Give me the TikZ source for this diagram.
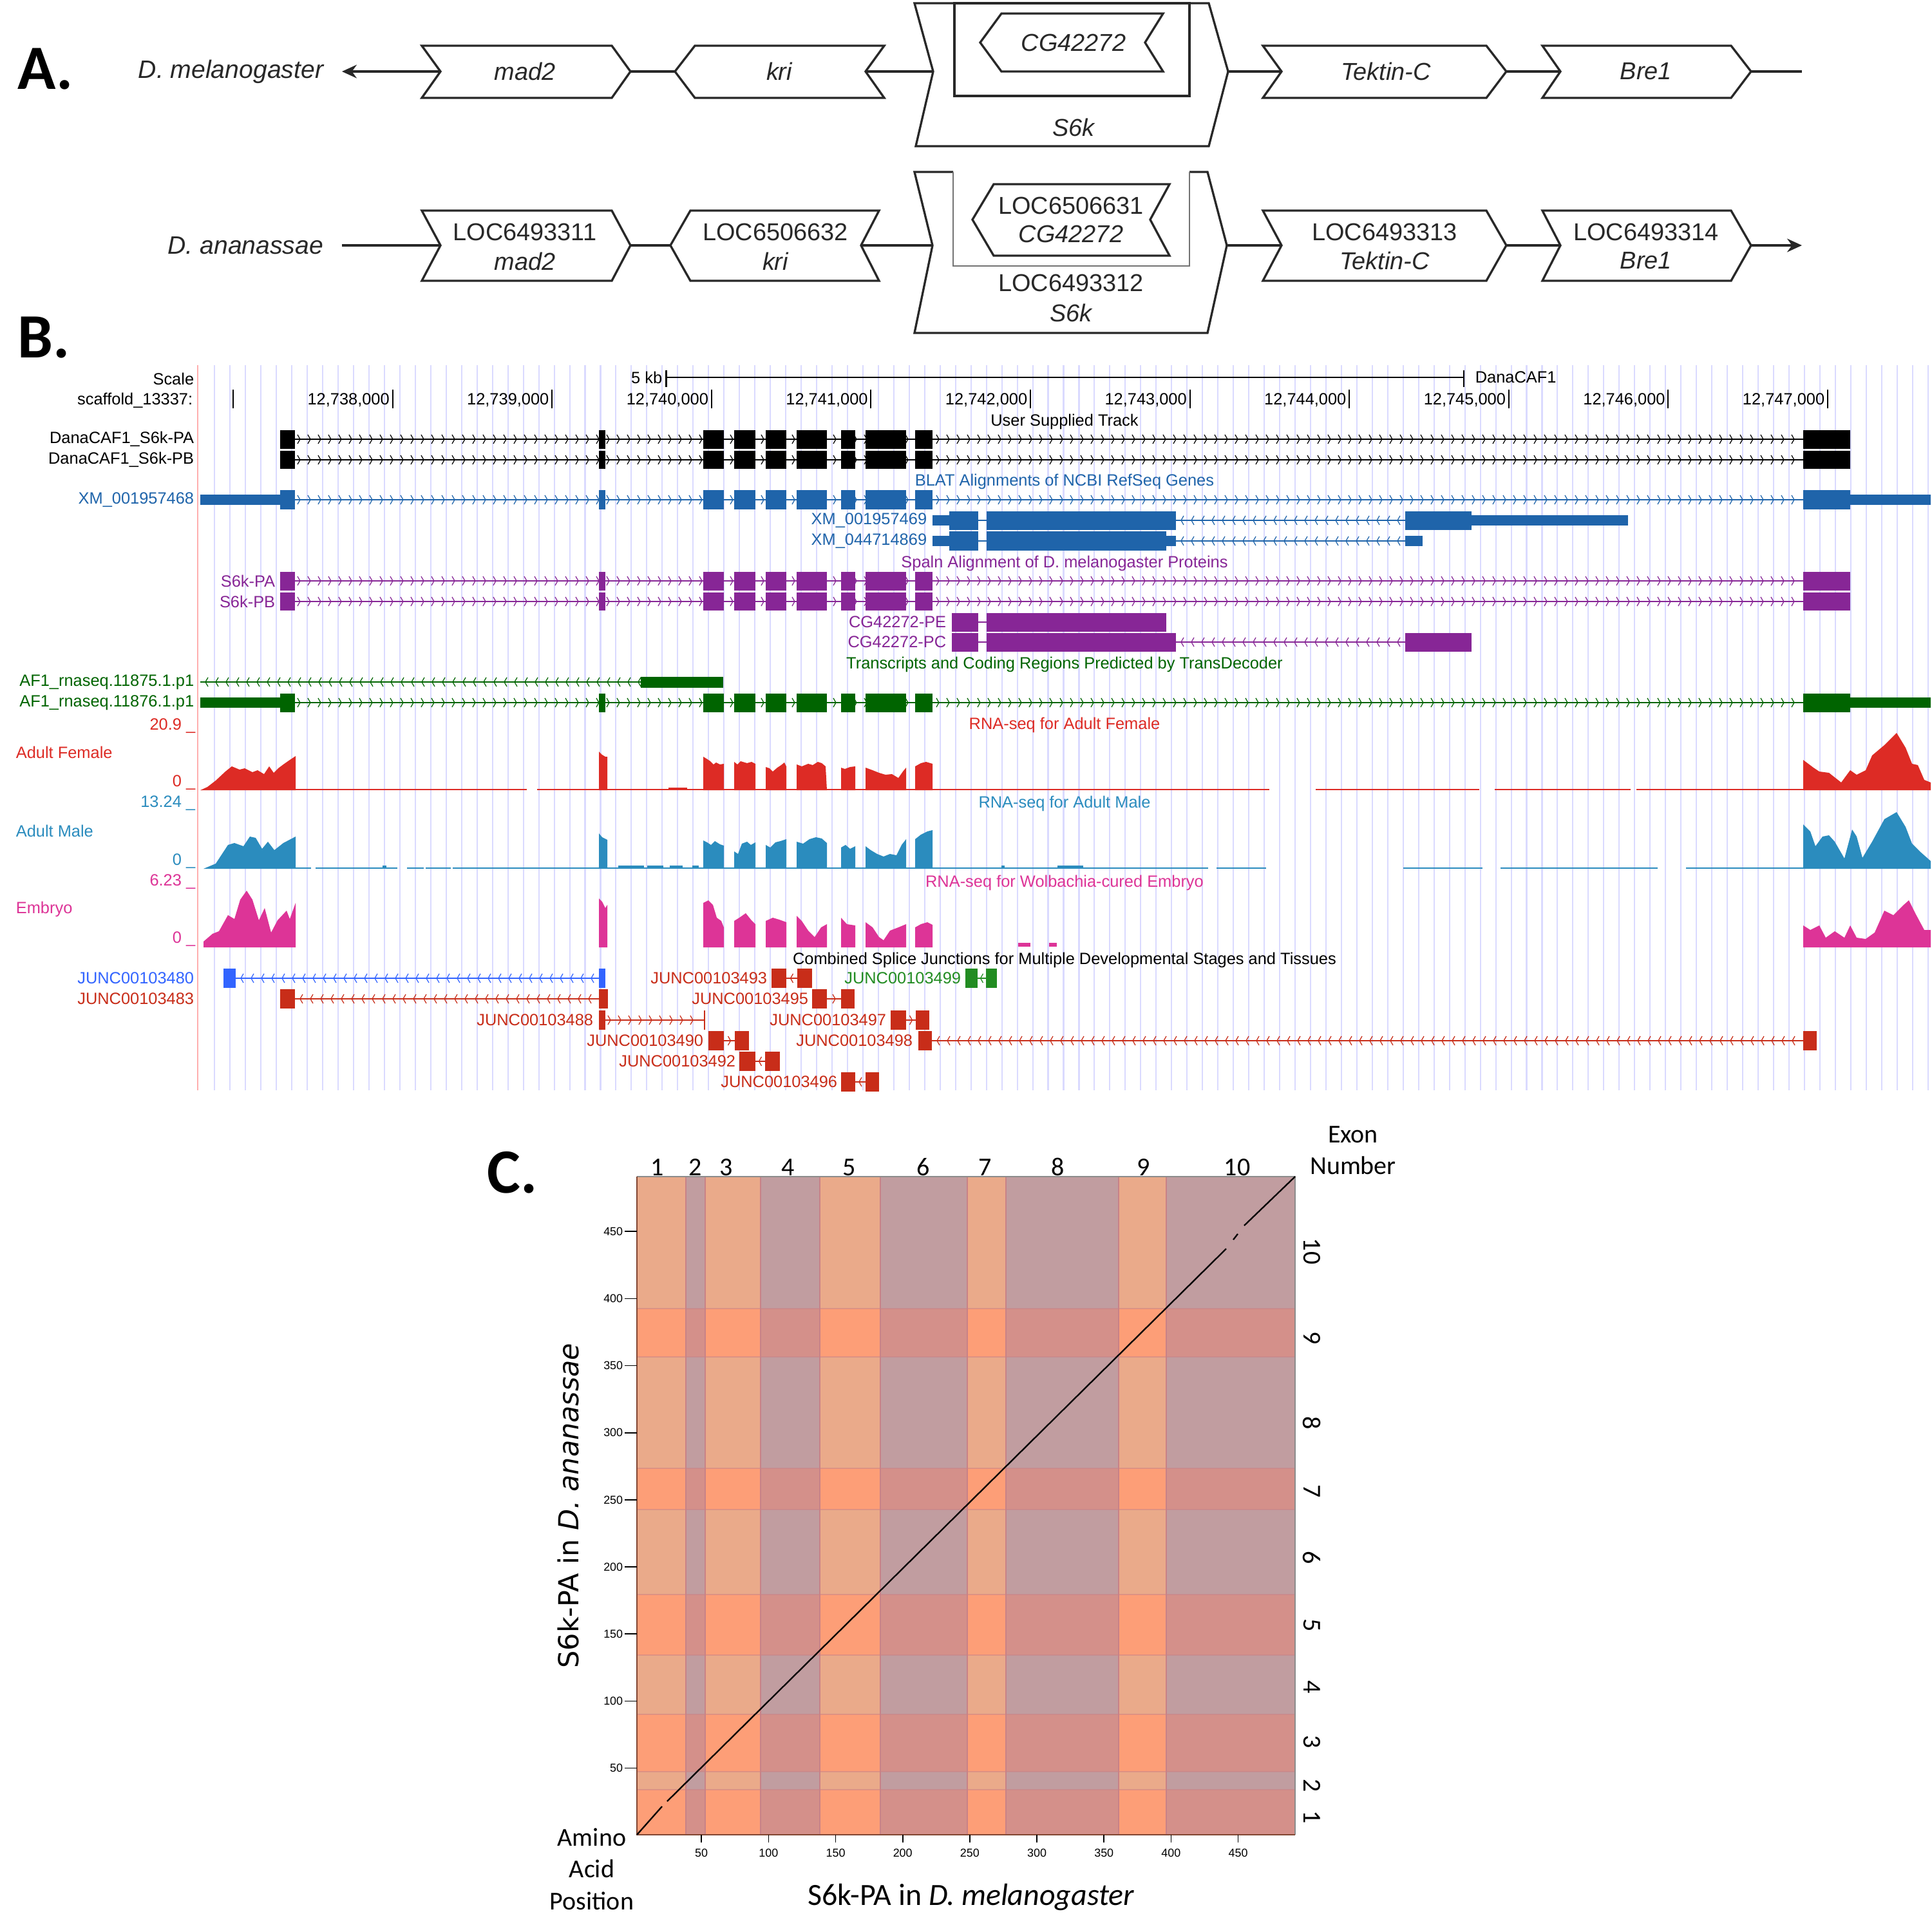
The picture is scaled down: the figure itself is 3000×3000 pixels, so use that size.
\documentclass[tikz,border=0pt]{standalone}
\usepackage{fontspec}
\setmainfont{Liberation Sans}
\newfontfamily\carlito{Carlito}
\newfontfamily\djv{DejaVu Sans}
\usetikzlibrary{arrows.meta}
\definecolor{ucBlue}{RGB}{31,100,170}
\definecolor{ucPurple}{RGB}{135,38,150}
\definecolor{ucGreen}{RGB}{0,100,0}
\definecolor{femRed}{RGB}{221,43,37}
\definecolor{maleBlue}{RGB}{43,140,190}
\definecolor{embPink}{RGB}{221,52,151}
\definecolor{jRed}{RGB}{200,45,25}
\definecolor{jBlue}{RGB}{50,100,255}
\definecolor{jGreen}{RGB}{34,140,34}
\definecolor{gridBlue}{RGB}{218,218,255}
\definecolor{gridRed}{RGB}{255,175,175}
\definecolor{cA}{RGB}{234,170,138}
\definecolor{cB}{RGB}{193,157,160}
\definecolor{cC}{RGB}{253,158,119}
\definecolor{cD}{RGB}{212,144,138}
\definecolor{bandLine}{RGB}{200,130,135}
\definecolor{frameC}{RGB}{130,70,50}
\definecolor{atxt}{RGB}{40,40,40}
\newcommand\blocks[4]{\foreach \a/\b in {#4} {\fill[#1] (\a,{#2-#3}) rectangle (\b,{#2+#3});}}
\newcommand\intron[5]{%
  \draw[#1, line width=0.6pt] (#3,#2) -- (#4,#2);%
  \pgfmathsetmacro\iA{#3+8}%
  \pgfmathsetmacro\iB{#3+24}%
  \pgfmathsetmacro\iC{#4-3}%
  \foreach \x in {\iA,\iB,...,\iC} {\draw[#1, line width=0.3pt] ({\x-(#5)*4},{#2-7}) -- (\x,#2) -- ({\x-(#5)*4},{#2+7});}%
}
\newcommand\shortj[5]{%
  \draw[#1, line width=0.6pt] (#3,#2) -- (#4,#2);%
  \pgfmathsetmacro\iM{(#3+#4)/2+(#5)*2}%
  \draw[#1, line width=0.3pt] ({\iM-(#5)*4},{#2-7}) -- (\iM,#2) -- ({\iM-(#5)*4},{#2+7});%
}
\tikzset{
  gbox/.style={draw=atxt, line width=0.8pt, fill=white, line join=miter},
  gtxt/.style={font=\fontsize{9.1}{11}\selectfont, text=atxt, inner sep=0},
  gitx/.style={font=\fontsize{9.1}{11}\selectfont\itshape, text=atxt, inner sep=0},
  link/.style={draw=atxt, line width=0.8pt},
  panel/.style={font=\carlito\bfseries\fontsize{23.5}{26}\selectfont, inner sep=0, anchor=base west},
  ucsc/.style={font=\fontsize{6.1}{7}\selectfont, inner sep=0},
  ctxt/.style={font=\carlito\fontsize{9.6}{11}\selectfont, inner sep=0},
  tickl/.style={font=\fontsize{4.3}{5}\selectfont, inner sep=0},
  thinl/.style={line width=0.5pt},
}
\begin{document}
\begin{tikzpicture}[x=0.24pt,y=-0.24pt]
\useasboundingbox (0,0) rectangle (3000,3000);
\fill[white] (0,0) rectangle (3000,3000);

%================ PART A ================
\node[panel] (lblA) at (27,138) {A.};
% row 1
\node[gitx, anchor=east, font=\fontsize{9.4}{11}\selectfont\itshape] (spmel) at (503,111) {D. melanogaster};
\coordinate (arr1) at (531,111);
\draw[gbox] (655,71) -- (950,71) -- (979,111) -- (950,152) -- (655,152) -- (684,111) -- cycle;
\coordinate (m1L) at (684,111); \coordinate (m1R) at (979,111);
\node[gitx] (tm1) at (815,111) {mad2};
\draw[gbox] (1079,71) -- (1373,71) -- (1344,111) -- (1373,152) -- (1079,152) -- (1048,111) -- cycle;
\coordinate (k1L) at (1048,111); \coordinate (k1R) at (1344,111);
\node[gitx] (tk1) at (1210,111) {kri};
\draw[gbox] (1420,5) -- (1877,5) -- (1907,111) -- (1877,227) -- (1422,227) -- (1449,111) -- cycle;
\coordinate (s1L) at (1449,111); \coordinate (s1R) at (1907,111);
\draw[draw=atxt, line width=0.8pt] (1482,5) rectangle (1847,149);
\draw[gbox] (1555,21) -- (1806,21) -- (1778,66) -- (1806,111) -- (1555,111) -- (1522,66) -- cycle;
\node[gitx] (tcg1) at (1667,66) {CG42272};
\node[gitx] (ts1) at (1667,198) {S6k};
\draw[gbox] (1961,71) -- (2308,71) -- (2339,111) -- (2308,152) -- (1961,152) -- (1990,111) -- cycle;
\coordinate (t1L) at (1990,111); \coordinate (t1R) at (2339,111);
\node[gitx] (tt1) at (2152,111) {Tektin-C};
\draw[gbox] (2395,71) -- (2688,71) -- (2719,111) -- (2688,152) -- (2395,152) -- (2423,111) -- cycle;
\coordinate (b1L) at (2423,111); \coordinate (b1R) at (2719,111);
\node[gitx] (tb1) at (2556,111) {Bre1};
\coordinate (end1) at (2798,111);
\draw[link, -{Stealth[length=5.5pt,width=5pt]}] (m1L) -- (arr1);
\draw[link] (m1R) -- (k1L);
\draw[link] (k1R) -- (s1L);
\draw[link] (s1R) -- (t1L);
\draw[link] (t1R) -- (b1L);
\draw[link] (b1R) -- (end1);

% row 2
\node[gitx, anchor=east, font=\fontsize{9.4}{11}\selectfont\itshape] (spana) at (503,381) {D. ananassae};
\coordinate (st2) at (531,381);
\draw[gbox] (655,327) -- (950,327) -- (979,381) -- (950,436) -- (655,436) -- (684,381) -- cycle;
\coordinate (m2L) at (684,381); \coordinate (m2R) at (979,381);
\node[gtxt] (tm2a) at (815,360) {LOC6493311};
\node[gitx] (tm2b) at (815,406) {mad2};
\draw[gbox] (1072,327) -- (1365,327) -- (1337,381) -- (1365,436) -- (1072,436) -- (1041,381) -- cycle;
\coordinate (k2L) at (1041,381); \coordinate (k2R) at (1337,381);
\node[gtxt] (tk2a) at (1204,360) {LOC6506632};
\node[gitx] (tk2b) at (1204,406) {kri};
\fill[white] (1420,267) -- (1480,267) -- (1480,413) -- (1847,413) -- (1847,267) -- (1875,267) -- (1905,381) -- (1875,517) -- (1420,517) -- (1448,381) -- cycle;
\draw[draw=atxt, line width=0.8pt, line join=miter] (1480,267) -- (1420,267) -- (1448,381) -- (1420,517) -- (1875,517) -- (1905,381) -- (1875,267) -- (1847,267);
\draw[draw=black!55, line width=0.45pt] (1480,267) -- (1480,413) -- (1847,413) -- (1847,267);
\coordinate (s2L) at (1448,381); \coordinate (s2R) at (1905,381);
\draw[gbox] (1543,286) -- (1816,286) -- (1786,341) -- (1816,397) -- (1543,397) -- (1510,341) -- cycle;
\node[gtxt] (tcg2a) at (1663,319) {LOC6506631};
\node[gitx] (tcg2b) at (1663,363) {CG42272};
\node[gtxt] (ts2a) at (1663,439) {LOC6493312};
\node[gitx] (ts2b) at (1663,486) {S6k};
\draw[gbox] (1961,327) -- (2308,327) -- (2339,381) -- (2308,436) -- (1961,436) -- (1990,381) -- cycle;
\coordinate (t2L) at (1990,381); \coordinate (t2R) at (2339,381);
\node[gtxt] (tt2a) at (2150,360) {LOC6493313};
\node[gitx] (tt2b) at (2150,405) {Tektin-C};
\draw[gbox] (2395,327) -- (2688,327) -- (2719,381) -- (2688,436) -- (2395,436) -- (2423,381) -- cycle;
\coordinate (b2L) at (2423,381); \coordinate (b2R) at (2719,381);
\node[gtxt] (tb2a) at (2556,360) {LOC6493314};
\node[gitx] (tb2b) at (2556,405) {Bre1};
\coordinate (end2) at (2798,381);
\draw[link] (st2) -- (m2L);
\draw[link] (m2R) -- (k2L);
\draw[link] (k2R) -- (s2L);
\draw[link] (s2R) -- (t2L);
\draw[link] (t2R) -- (b2L);
\draw[link, -{Stealth[length=5.5pt,width=5pt]}] (b2R) -- (end2);

%================ PART B ================
\node[panel] (lblB) at (27,555) {B.};
\foreach \k in {0,...,111} {\draw[gridBlue, line width=0.5pt] ({333.3+23.967*\k},567) -- ({333.3+23.967*\k},1693);}
\draw[gridRed, line width=0.5pt] (307,567) -- (307,1693);

\node[ucsc, anchor=east] (tscale) at (302,588) {Scale};
\node[ucsc, anchor=east] (tscaf) at (300,622) {scaffold\_13337:};
\foreach \k in {0,...,10} {\draw[black, thinl] ({362+247.6*\k},605) -- ({362+247.6*\k},634);}
\foreach \k/\lab in {1/{12,738,000},2/{12,739,000},3/{12,740,000},4/{12,741,000},5/{12,742,000},6/{12,743,000},7/{12,744,000},8/{12,745,000},9/{12,746,000},10/{12,747,000}}
  {\node[ucsc, anchor=east] (pos\k) at ({362+247.6*\k-4},621) {\lab};}
\draw[black, thinl] (1034.5,586) -- (2273,586);
\draw[black, thinl] (1034.5,575) -- (1034.5,601);
\draw[black, thinl] (2273,575) -- (2273,601);
\node[ucsc, anchor=east] (t5kb) at (1029,586) {5 kb};
\node[ucsc, anchor=west] (tdana) at (2290,586) {DanaCAF1};

% user supplied track
\node[ucsc] (tuser) at (1653,655) {User Supplied Track};
\node[ucsc, anchor=east] (lpa) at (302,682) {DanaCAF1\_S6k-PA};
\node[ucsc, anchor=east] (lpb) at (302,714) {DanaCAF1\_S6k-PB};
\intron{black}{682}{458}{2800}{1}
\blocks{black}{682}{14.5}{435/458,930/940,1092/1124,1140/1173,1189/1221,1237/1284,1306/1328,1344/1407,1421/1448,2800/2873}
\intron{black}{714}{458}{2800}{1}
\blocks{black}{714}{14}{435/458,930/940,1092/1124,1140/1173,1189/1221,1237/1284,1306/1328,1344/1407,1421/1448,2800/2873}

% BLAT
\node[ucsc, text=ucBlue] (tblat) at (1653,748) {BLAT Alignments of NCBI RefSeq Genes};
\node[ucsc, text=ucBlue, anchor=east] (lxm68) at (302,776) {XM\_001957468};
\intron{ucBlue}{776}{458}{2800}{1}
\blocks{ucBlue}{776}{8}{311/435,2873/2998}
\blocks{ucBlue}{776}{15}{435/458,930/940,1092/1124,1140/1173,1189/1221,1237/1284,1306/1328,1344/1407,1421/1448,2800/2873}
\node[ucsc, text=ucBlue, anchor=east] (lxm69) at (1440,808) {XM\_001957469};
\intron{ucBlue}{808}{1826}{2182}{-1}
\draw[ucBlue, line width=0.6pt] (1519,808) -- (1532,808);
\blocks{ucBlue}{808}{8}{1448/1474,2285/2528}
\blocks{ucBlue}{808}{14.5}{1474/1519,1532/1826,2182/2285}
\node[ucsc, text=ucBlue, anchor=east] (lxm869) at (1440,840) {XM\_044714869};
\intron{ucBlue}{840}{1826}{2182}{-1}
\draw[ucBlue, line width=0.6pt] (1519,840) -- (1532,840);
\blocks{ucBlue}{840}{8}{1448/1474,1811/1826,2182/2209}
\blocks{ucBlue}{840}{15}{1474/1519,1532/1811}

% Spaln
\node[ucsc, text=ucPurple] (tspaln) at (1653,875) {Spaln Alignment of D. melanogaster Proteins};
\node[ucsc, text=ucPurple, anchor=east] (lspa) at (428,902) {S6k-PA};
\node[ucsc, text=ucPurple, anchor=east] (lspb) at (428,934) {S6k-PB};
\intron{ucPurple}{902}{458}{2800}{1}
\blocks{ucPurple}{902}{14.5}{435/458,930/940,1092/1124,1140/1173,1189/1221,1237/1284,1306/1328,1344/1407,1421/1448,2800/2873}
\intron{ucPurple}{934}{458}{2800}{1}
\blocks{ucPurple}{934}{14}{435/458,930/940,1092/1124,1140/1173,1189/1221,1237/1284,1306/1328,1344/1407,1421/1448,2800/2873}
\node[ucsc, text=ucPurple, anchor=east] (lcgpe) at (1470,966) {CG42272-PE};
\draw[ucPurple, line width=0.6pt] (1519,966) -- (1532,966);
\blocks{ucPurple}{966}{14.5}{1478/1519,1532/1811}
\node[ucsc, text=ucPurple, anchor=east] (lcgpc) at (1470,997) {CG42272-PC};
\intron{ucPurple}{997}{1826}{2182}{-1}
\draw[ucPurple, line width=0.6pt] (1519,997) -- (1532,997);
\blocks{ucPurple}{997}{14.5}{1478/1519,1532/1826,2182/2285}

% TransDecoder
\node[ucsc, text=ucGreen] (ttd) at (1653,1032) {Transcripts and Coding Regions Predicted by TransDecoder};
\node[ucsc, text=ucGreen, anchor=east] (l875) at (302,1059) {AF1\_rnaseq.11875.1.p1};
\intron{ucGreen}{1059}{311}{995}{-1}
\blocks{ucGreen}{1059}{8.5}{995/1123}
\node[ucsc, text=ucGreen, anchor=east] (l876) at (302,1091) {AF1\_rnaseq.11876.1.p1};
\intron{ucGreen}{1091}{458}{2800}{1}
\blocks{ucGreen}{1091}{8}{311/435,2873/2998}
\blocks{ucGreen}{1091}{14.5}{435/458,930/940,1092/1124,1140/1173,1189/1221,1237/1284,1306/1328,1344/1407,1421/1448,2800/2873}

% RNA-seq Adult Female
\node[ucsc, text=femRed] (tfem) at (1653,1126) {RNA-seq for Adult Female};
\node[ucsc, text=femRed, anchor=base east] (fmax) at (304,1133) {20.9 \_};
\node[ucsc, text=femRed, anchor=west] (lfem) at (24,1168) {Adult Female};
\node[ucsc, text=femRed, anchor=base east] (fmin) at (304,1221) {0 \_};
\foreach \a/\b in {459/818,834/1971,2043/2297,2321/2532,2541/2800} {\draw[femRed, line width=0.6pt] (\a,1226) -- (\b,1226);}
\fill[femRed] (311,1227) -- (322,1222) -- (335,1212) -- (350,1198) -- (360,1190) -- (372,1195) -- (380,1193) -- (392,1199) -- (400,1196) -- (410,1202) -- (418,1190) -- (425,1200) -- (432,1193) -- (440,1187) -- (450,1180) -- (459,1174) -- (459,1227) -- cycle;
\fill[femRed] (930,1227) -- (930,1167) -- (935,1172) -- (940,1175) -- (943,1175) -- (943,1227) -- cycle;
\fill[femRed] (1038,1227) rectangle (1067,1223);
\fill[femRed] (1092,1227) -- (1092,1175) -- (1097,1178) -- (1103,1182) -- (1108,1187) -- (1112,1184) -- (1118,1187) -- (1124,1186) -- (1124,1227) -- cycle;
\fill[femRed] (1140,1227) -- (1140,1183) -- (1145,1187) -- (1150,1182) -- (1160,1185) -- (1167,1183) -- (1173,1186) -- (1173,1227) -- cycle;
\fill[femRed] (1189,1227) -- (1189,1191) -- (1195,1193) -- (1200,1198) -- (1207,1192) -- (1213,1188) -- (1218,1184) -- (1221,1190) -- (1221,1227) -- cycle;
\fill[femRed] (1237,1227) -- (1237,1187) -- (1245,1190) -- (1255,1186) -- (1262,1188) -- (1270,1183) -- (1276,1185) -- (1282,1190) -- (1284,1227) -- cycle;
\fill[femRed] (1306,1227) -- (1306,1192) -- (1312,1194) -- (1320,1191) -- (1328,1190) -- (1328,1227) -- cycle;
\fill[femRed] (1344,1227) -- (1344,1192) -- (1355,1196) -- (1365,1200) -- (1375,1203) -- (1385,1202) -- (1395,1208) -- (1402,1198) -- (1407,1192) -- (1407,1227) -- cycle;
\fill[femRed] (1421,1227) -- (1421,1190) -- (1430,1185) -- (1438,1183) -- (1448,1186) -- (1448,1227) -- cycle;
\fill[femRed] (2800,1227) -- (2800,1180) -- (2816,1192) -- (2825,1198) -- (2840,1200) -- (2859,1215) -- (2873,1196) -- (2883,1203) -- (2897,1196) -- (2907,1173) -- (2926,1157) -- (2945,1138) -- (2959,1161) -- (2969,1186) -- (2978,1188) -- (2988,1211) -- (2998,1215) -- (2998,1227) -- cycle;

% RNA-seq Adult Male
\node[ucsc, text=maleBlue] (tmale) at (1653,1248) {RNA-seq for Adult Male};
\node[ucsc, text=maleBlue, anchor=base east] (mmax) at (304,1253) {13.24 \_};
\node[ucsc, text=maleBlue, anchor=west] (lmale) at (24,1290) {Adult Male};
\node[ucsc, text=maleBlue, anchor=base east] (mmin) at (304,1343) {0 \_};
\foreach \a/\b in {459/483,490/617,632/658,661/700,703/1876,1889/1966,2179/2302,2330/2574,2618/2800} {\draw[maleBlue, line width=0.6pt] (\a,1348) -- (\b,1348);}
\foreach \a/\b in {594/600,960/1000,1005/1030,1040/1060,1075/1085,1555/1560,1642/1682} {\fill[maleBlue] (\a,1349) rectangle (\b,1344);}
\fill[maleBlue] (316,1349) -- (335,1341) -- (354,1312) -- (364,1309) -- (378,1314) -- (388,1299) -- (397,1301) -- (407,1318) -- (416,1307) -- (426,1320) -- (440,1309) -- (459,1299) -- (459,1349) -- cycle;
\fill[maleBlue] (930,1349) -- (930,1294) -- (935,1300) -- (943,1304) -- (943,1349) -- cycle;
\fill[maleBlue] (1092,1349) -- (1092,1305) -- (1098,1308) -- (1104,1312) -- (1110,1306) -- (1118,1311) -- (1124,1313) -- (1124,1349) -- cycle;
\fill[maleBlue] (1140,1349) -- (1140,1322) -- (1146,1326) -- (1152,1310) -- (1160,1307) -- (1166,1312) -- (1173,1308) -- (1173,1349) -- cycle;
\fill[maleBlue] (1189,1349) -- (1189,1312) -- (1196,1316) -- (1204,1308) -- (1212,1306) -- (1221,1303) -- (1221,1349) -- cycle;
\fill[maleBlue] (1237,1349) -- (1237,1307) -- (1247,1310) -- (1257,1303) -- (1267,1300) -- (1276,1302) -- (1284,1309) -- (1284,1349) -- cycle;
\fill[maleBlue] (1306,1349) -- (1306,1316) -- (1313,1312) -- (1320,1318) -- (1328,1314) -- (1328,1349) -- cycle;
\fill[maleBlue] (1344,1349) -- (1344,1314) -- (1352,1320) -- (1362,1326) -- (1372,1330) -- (1382,1326) -- (1392,1328) -- (1400,1312) -- (1407,1303) -- (1407,1349) -- cycle;
\fill[maleBlue] (1421,1349) -- (1421,1303) -- (1430,1296) -- (1440,1291) -- (1448,1289) -- (1448,1349) -- cycle;
\fill[maleBlue] (2800,1349) -- (2800,1280) -- (2811,1291) -- (2819,1314) -- (2830,1299) -- (2840,1297) -- (2849,1307) -- (2864,1333) -- (2876,1288) -- (2883,1299) -- (2892,1332) -- (2907,1307) -- (2926,1272) -- (2945,1261) -- (2959,1284) -- (2969,1310) -- (2981,1322) -- (2998,1337) -- (2998,1349) -- cycle;

% RNA-seq Embryo
\node[ucsc, text=embPink] (temb) at (1653,1371) {RNA-seq for Wolbachia-cured Embryo};
\node[ucsc, text=embPink, anchor=base east] (emax) at (304,1375) {6.23 \_};
\node[ucsc, text=embPink, anchor=west] (lemb) at (24,1412) {Embryo};
\node[ucsc, text=embPink, anchor=base east] (emin) at (304,1464) {0 \_};
\fill[embPink] (316,1471) -- (316,1462) -- (330,1450) -- (340,1446) -- (354,1421) -- (364,1427) -- (373,1397) -- (383,1383) -- (392,1397) -- (402,1429) -- (411,1410) -- (421,1448) -- (431,1429) -- (445,1414) -- (450,1427) -- (459,1402) -- (459,1471) -- cycle;
\fill[embPink] (930,1471) -- (930,1395) -- (935,1400) -- (940,1410) -- (943,1405) -- (943,1471) -- cycle;
\fill[embPink] (1092,1471) -- (1092,1402) -- (1100,1398) -- (1107,1405) -- (1113,1425) -- (1120,1430) -- (1124,1440) -- (1124,1471) -- cycle;
\fill[embPink] (1140,1471) -- (1140,1430) -- (1148,1425) -- (1158,1418) -- (1166,1428) -- (1173,1435) -- (1173,1471) -- cycle;
\fill[embPink] (1189,1471) -- (1189,1430) -- (1200,1425) -- (1210,1428) -- (1221,1432) -- (1221,1471) -- cycle;
\fill[embPink] (1237,1471) -- (1237,1422) -- (1245,1430) -- (1255,1445) -- (1265,1455) -- (1275,1440) -- (1284,1435) -- (1284,1471) -- cycle;
\fill[embPink] (1306,1471) -- (1306,1425) -- (1315,1435) -- (1328,1437) -- (1328,1471) -- cycle;
\fill[embPink] (1344,1471) -- (1344,1432) -- (1355,1440) -- (1365,1455) -- (1372,1460) -- (1382,1445) -- (1395,1440) -- (1407,1435) -- (1407,1471) -- cycle;
\fill[embPink] (1421,1471) -- (1421,1440) -- (1430,1435) -- (1440,1432) -- (1448,1436) -- (1448,1471) -- cycle;
\fill[embPink] (1581,1464) rectangle (1600,1470);
\fill[embPink] (1629,1464) rectangle (1641,1470);
\fill[embPink] (2800,1471) -- (2800,1437) -- (2811,1444) -- (2825,1437) -- (2835,1456) -- (2849,1446) -- (2864,1456) -- (2873,1437) -- (2883,1456) -- (2897,1458) -- (2911,1448) -- (2926,1414) -- (2940,1421) -- (2955,1406) -- (2964,1398) -- (2974,1418) -- (2988,1444) -- (2998,1444) -- (2998,1471) -- cycle;

% Splice junctions
\node[ucsc] (tjunc) at (1653,1491) {Combined Splice Junctions for Multiple Developmental Stages and Tissues};
\node[ucsc, text=jBlue, anchor=east] (j80) at (302,1519) {JUNC00103480};
\intron{jBlue}{1519}{366}{930}{-1}
\blocks{jBlue}{1519}{15}{347/366,930/940}
\node[ucsc, text=jRed, anchor=east] (j83) at (302,1551) {JUNC00103483};
\intron{jRed}{1551}{458}{930}{-1}
\blocks{jRed}{1551}{15}{435/458,930/944}
\node[ucsc, text=jRed, anchor=east] (j88) at (922,1584) {JUNC00103488};
\intron{jRed}{1584}{940}{1094}{1}
\blocks{jRed}{1584}{15}{930/940}
\draw[jRed, line width=0.5pt] (1094,1569) -- (1094,1599);
\node[ucsc, text=jRed, anchor=east] (j90) at (1093,1616) {JUNC00103490};
\shortj{jRed}{1616}{1124}{1141}{1}
\blocks{jRed}{1616}{15}{1100/1124,1141/1163}
\node[ucsc, text=jRed, anchor=east] (j92) at (1143,1648) {JUNC00103492};
\shortj{jRed}{1648}{1173}{1188}{-1}
\blocks{jRed}{1648}{15}{1148/1173,1188/1211}
\node[ucsc, text=jRed, anchor=east] (j96) at (1301,1680) {JUNC00103496};
\shortj{jRed}{1680}{1328}{1344}{-1}
\blocks{jRed}{1680}{15}{1306/1328,1344/1365}
\node[ucsc, text=jRed, anchor=east] (j93) at (1192,1519) {JUNC00103493};
\shortj{jRed}{1519}{1221}{1238}{-1}
\blocks{jRed}{1519}{15}{1198/1221,1238/1261}
\node[ucsc, text=jRed, anchor=east] (j95) at (1256,1551) {JUNC00103495};
\shortj{jRed}{1551}{1284}{1306}{1}
\blocks{jRed}{1551}{15}{1261/1284,1306/1327}
\node[ucsc, text=jRed, anchor=east] (j97) at (1377,1584) {JUNC00103497};
\shortj{jRed}{1584}{1407}{1422}{1}
\blocks{jRed}{1584}{15}{1383/1407,1422/1443}
\node[ucsc, text=jRed, anchor=east] (j98) at (1418,1616) {JUNC00103498};
\intron{jRed}{1616}{1447}{2800}{-1}
\blocks{jRed}{1616}{15}{1426/1447,2800/2821}
\node[ucsc, text=jGreen, anchor=east] (j99) at (1493,1519) {JUNC00103499};
\shortj{jGreen}{1519}{1518}{1531}{-1}
\blocks{jGreen}{1519}{15}{1499/1518,1531/1548}

%================ PART C ================
\node[panel] (lblC) at (756,1852) {C.};
\foreach \a/\b [count=\i] in {989/1065,1065/1095,1095/1181,1181/1273,1273/1367,1367/1502,1502/1562,1562/1737,1737/1811,1811/2011} {
  \foreach \c/\d [count=\j] in {2779/2849,2751/2779,2662/2751,2570/2662,2476/2570,2344/2476,2280/2344,2107/2280,2032/2107,1827/2032} {
    \ifodd\i \ifodd\j \def\cc{cC}\else\def\cc{cA}\fi \else \ifodd\j \def\cc{cD}\else\def\cc{cB}\fi \fi
    \fill[\cc] (\a,\c) rectangle (\b,\d);
  }
}
\foreach \a in {1065,1095,1181,1273,1367,1502,1562,1737,1811} {\draw[bandLine, line width=0.35pt] (\a,1827) -- (\a,2849);}
\foreach \c in {2032,2107,2280,2344,2476,2570,2662,2751,2779} {\draw[bandLine, opacity=0.5, line width=0.3pt] (989,\c) -- (2011,\c);}
\draw[black!45, line width=0.45pt] (989,1827) -- (2011,1827) -- (2011,2849);
\draw[frameC, line width=0.7pt] (989,1827) -- (989,2849) -- (2011,2849);
% dot-plot diagonal
\draw[black, line width=0.55pt] (989,2849) -- (1028,2805);
\draw[black, line width=0.55pt] (1036,2797) -- (1904,1939);
\draw[black, line width=0.55pt] (1915,1925) -- (1922,1916);
\draw[black, line width=0.55pt] (1932,1903) -- (2011,1827);
% ticks
\foreach \v in {50,100,...,450} {
  \draw[black, line width=0.4pt] ({985+2.0835*\v},2849) -- ({985+2.0835*\v},2861);
  \node[tickl] (xt\v) at ({985+2.0835*\v},2877) {\v};
  \draw[black, line width=0.4pt] (970,{2849.8-2.0835*\v}) -- (989,{2849.8-2.0835*\v});
  \node[tickl, anchor=east] (yt\v) at (968,{2849.8-2.0835*\v}) {\v};
}
% exon numbers top
\foreach \x/\n in {1021/1,1080/2,1128/3,1224/4,1319/5,1434/6,1530/7,1643/8,1776/9,1921/10} {\node[ctxt, anchor=base] (ex\n) at (\x,1825) {\n};}
\node[ctxt, anchor=base] (texon) at (2101,1774) {Exon};
\node[ctxt, anchor=base] (tnum) at (2101,1823) {Number};
% exon numbers right (rotated)
\foreach \y/\n in {1943/10,2078/9,2210/8,2316/7,2419/6,2524/5,2620/4,2705/3,2773/2,2822/1} {\node[ctxt, rotate=-90] (ey\n) at (2037,\y) {\n};}
% axis labels
\node[inner sep=0, rotate=90, font=\djv\fontsize{10.3}{12}\selectfont] (yaxis) at (882,2338) {S6k-PA in \textit{D. ananassae}};
\node[inner sep=0, font=\carlito\fontsize{11.5}{13}\selectfont] (xaxis) at (1508,2946) {S6k-PA in \textit{D. melanogaster}};
\node[ctxt] (tamino) at (919,2853) {Amino};
\node[ctxt] (tacid) at (919,2902) {Acid};
\node[ctxt] (tpos) at (919,2952) {Position};
\end{tikzpicture}
\end{document}
